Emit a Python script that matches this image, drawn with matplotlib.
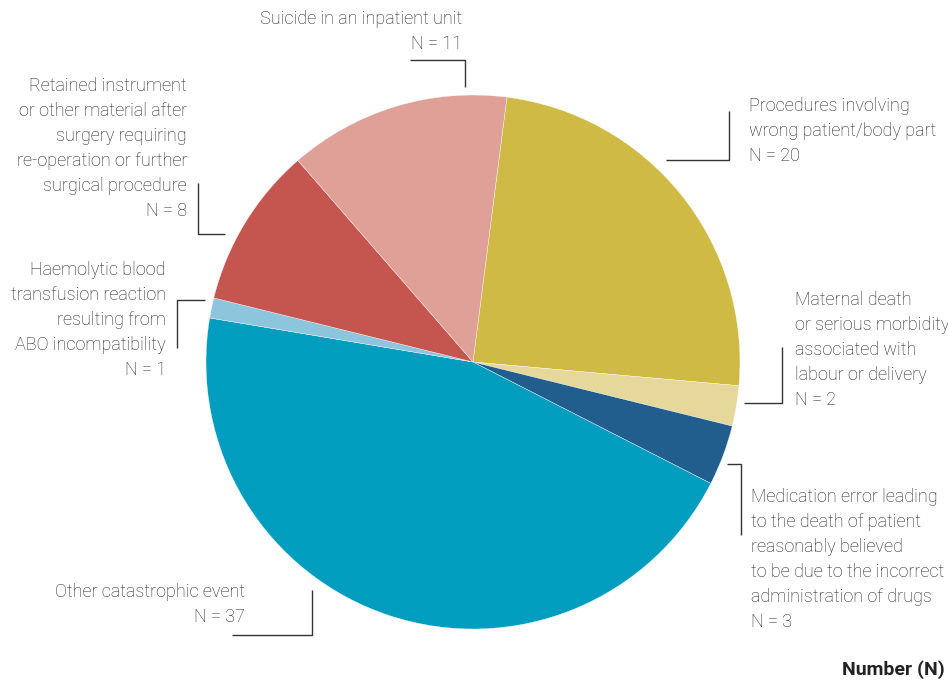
import matplotlib.pyplot as plt

categorias = [
    "Procedures involving\nwrong patient/body part",
    "Maternal death\nor serious morbidity\nassociated with\nlabour or delivery",
    "Medication error leading\nto the death of patient\nreasonably believed\nto be due to the incorrect\nadministration of drugs",
    "Other catastrophic event",
    "Haemolytic blood\ntransfusion reaction\nresulting from\nABO incompatibility",
    "Retained instrument\nor other material after\nsurgery requiring\nre-operation or further\nsurgical procedure",
    "Suicide in an inpatient unit",
]
valores = [20, 2, 3, 37, 1, 8, 11]
cores = ["#CFBA45", "#E6D89B", "#215E8E", "#009DBF", "#8DC5DC", "#C4554F", "#DEA097"]

# posicao dos rotulos (pixels, y para baixo) e alinhamento
rotulos = [
    (749, 97, "left"),
    (795, 291, "left"),
    (751, 488, "left"),
    (245, 583, "right"),
    (166, 261, "right"),
    (187, 77, "right"),
    (462, 10, "right"),
]
# linhas de chamada (cotovelos)
chamadas = [
    [(666, 160), (729, 160), (729, 111)],
    [(744, 403), (782, 403), (782, 347)],
    [(727, 464), (741, 464), (741, 535)],
    [(232, 635), (312, 635), (312, 590)],
    [(205, 300), (177, 300), (177, 348)],
    [(225, 234), (198, 234), (198, 183)],
    [(410, 60), (465, 60), (465, 87)],
]

plt.rcParams['font.family'] = ['Roboto', 'DejaVu Sans']
cor_texto = "#222222"

fig = plt.figure(figsize=(9.48, 6.81), dpi=100)
ax = fig.add_axes([0, 0, 1, 1])

ax.pie(valores, colors=cores, startangle=-82.7, counterclock=True,
       center=(473, 362), radius=267,
       wedgeprops=dict(edgecolor="white", linewidth=0.25))

ax.set_xlim(0, 948)
ax.set_ylim(681, 0)
ax.set_aspect("equal")
ax.axis("off")

for cat, n, (x, y, ha) in zip(categorias, valores, rotulos):
    ax.text(x, y, f"{cat}\nN = {n}", ha=ha, va="top", fontsize=13,
            linespacing=1.5, color=cor_texto, fontweight="light",
            multialignment=ha)

for pts in chamadas:
    xs = [p[0] for p in pts]
    ys = [p[1] for p in pts]
    ax.plot(xs, ys, color="#333333", linewidth=1.0, solid_capstyle="butt")

ax.text(945, 670, "Number (N)", ha="right", va="center", fontsize=14,
        fontweight="bold", color="#222222")

fig.savefig("out.png", dpi=100)
